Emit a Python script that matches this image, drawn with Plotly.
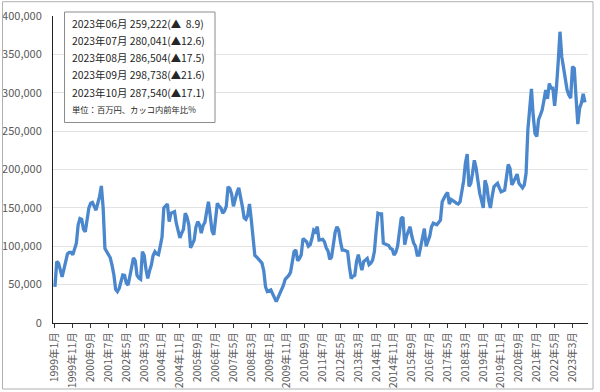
import plotly.graph_objects as go

# monthly values (million yen), Jan..Dec
v1999 = [47000, 80000, 78000, 68000, 60000, 70000, 83000, 90000, 92000, 92000, 89000, 97000]
v2000 = [104000, 128000, 136000, 135000, 122000, 119000, 135000, 150000, 156000, 157000, 152000, 147000]
v2001 = [156000, 165000, 178500, 150000, 97000, 93000, 88000, 85000, 75000, 63000, 44000, 41000]
v2002 = [45000, 55000, 62500, 62000, 52000, 49500, 62000, 72000, 85000, 81000, 62000, 58500]
v2003 = [57000, 93000, 88000, 70000, 58000, 68000, 75500, 88000, 93000, 90000, 89000, 100000]
v2004 = [112000, 150000, 153000, 155000, 132000, 143000, 144000, 145000, 130000, 122000, 111000, 117000]
v2005 = [122000, 143000, 138000, 128000, 98000, 103000, 108000, 125000, 132000, 128000, 117000, 127000]
v2006 = [131000, 145000, 158000, 140000, 120000, 115000, 138000, 156000, 152000, 150000, 143000, 146000]
v2007 = [152000, 177500, 175000, 168000, 152000, 162000, 170000, 176000, 165000, 152000, 137000, 135000]
v2008 = [140000, 155000, 135000, 110000, 88000, 86000, 83000, 81000, 78000, 68000, 47000, 41000]
v2009 = [42000, 43000, 38000, 34000, 28000, 33000, 38000, 45000, 49000, 57000, 59000, 62000]
v2010 = [66000, 78000, 93000, 95000, 81000, 84000, 89000, 110000, 108000, 106000, 100000, 102000]
v2011 = [110000, 121000, 119000, 125500, 108000, 108000, 109000, 106000, 98000, 94000, 83000, 86000]
v2012 = [106000, 118000, 125500, 121000, 106000, 95000, 95000, 94000, 93000, 73000, 58000, 61000]
v2013 = [62000, 80000, 89000, 78000, 69000, 80000, 82000, 84000, 76000, 78000, 82000, 93000]
v2014 = [120000, 143000, 142000, 142000, 104000, 103000, 102000, 101000, 97000, 96000, 88600, 92000]
v2015 = [100000, 123000, 136000, 138000, 102000, 113000, 120000, 125500, 113000, 104000, 100000, 88600]
v2016 = [88600, 100000, 113000, 123000, 100000, 108000, 113000, 125500, 130000, 129000, 128000, 131000]
v2017 = [134000, 158000, 163000, 167000, 170000, 155000, 161000, 160000, 158000, 156000, 155000, 158000]
v2018 = [170000, 185000, 208000, 220000, 178000, 182000, 195000, 212000, 202000, 182000, 169000, 160000]
v2019 = [150000, 186000, 178000, 160000, 150000, 165000, 177500, 180000, 182000, 176000, 171000, 172000]
v2020 = [173000, 190000, 206500, 201500, 180000, 184000, 190000, 194000, 182000, 178000, 176000, 180000]
v2021 = [195000, 251500, 285000, 305000, 270000, 247000, 243000, 265000, 271000, 277500, 290000, 303500]
v2022 = [292000, 312000, 306000, 306000, 283000, 306000, 340000, 379500, 347000, 334000, 320000, 303500]
v2023 = [297000, 293000, 334000, 332000, 294000, 259222, 280041, 286504, 298738, 287540]

yearly = [v1999, v2000, v2001, v2002, v2003, v2004, v2005, v2006, v2007, v2008,
          v2009, v2010, v2011, v2012, v2013, v2014, v2015, v2016, v2017, v2018,
          v2019, v2020, v2021, v2022, v2023]
start_year = 1999

months = []
values = []
for k, vals in enumerate(yearly):
    for m, v in enumerate(vals):
        months.append(f"{start_year + k}年{m + 1}月")
        values.append(v)

idx = list(range(len(months)))
tick_step = 10
tick_idx = idx[::tick_step]
tick_text = months[::tick_step]

y_ticks = [0, 50000, 100000, 150000, 200000, 250000, 300000, 350000, 400000]

box_lines = [
    "2023年06月 259,222(▲\u00a0\u00a08.9)",
    "2023年07月 280,041(▲12.6)",
    "2023年08月 286,504(▲17.5)",
    "2023年09月 298,738(▲21.6)",
    "2023年10月 287,540(▲17.1)",
]
unit_note = "単位：百万円、カッコ内前年比%"

FONT = "Noto Sans CJK JP, Noto Sans, sans-serif"

fig = go.Figure()
fig.add_trace(go.Scatter(
    x=idx, y=values, mode="lines",
    line=dict(color="#4a87cc", width=3.3),
    hoverinfo="skip", showlegend=False,
))

L, R, T, B = 53, 12, 16, 69
W, H = 600, 392
pw, ph = W - L - R, H - T - B

def px(x):
    return (x - L) / pw

def py(y):
    return (H - B - y) / ph

fig.update_layout(
    width=W, height=H,
    margin=dict(l=L, r=R, t=T, b=B, autoexpand=False),
    paper_bgcolor="white", plot_bgcolor="white",
    font=dict(family=FONT, size=10.5, color="#595959"),
    showlegend=False,
    xaxis=dict(
        range=[-1.1, len(idx) - 1 + 1.7], automargin=False,
        tickmode="array", tickvals=tick_idx, ticktext=tick_text,
        tickangle=-90, ticks="outside", ticklen=4, tickcolor="#333333",
        showline=True, linecolor="#222222", linewidth=1,
        showgrid=False, zeroline=False,
        tickfont=dict(family=FONT, size=10.5, color="#595959"),
    ),
    yaxis=dict(
        range=[0, 400000], tickvals=y_ticks, tickformat=",", automargin=False,
        showline=True, linecolor="#222222", linewidth=1,
        showgrid=True, gridcolor="#e2e2e2", gridwidth=1,
        zeroline=False, ticks="", ticklabelstandoff=8,
        tickfont=dict(family=FONT, size=11, color="#595959"),
    ),
)

# outer chart border
fig.add_shape(type="rect", xref="paper", yref="paper",
              x0=px(2.5), x1=px(593), y0=py(389), y1=py(1.7),
              line=dict(color="#b0b0b0", width=1), fillcolor="rgba(0,0,0,0)",
              layer="above")
# info box
fig.add_shape(type="rect", xref="paper", yref="paper",
              x0=px(64.5), x1=px(215), y0=py(122.5), y1=py(12),
              line=dict(color="#8c8c8c", width=1), fillcolor="white",
              layer="above")

line_y = [23.3, 40.5, 57.7, 74.9, 92.1]
for txt, yy in zip(box_lines, line_y):
    fig.add_annotation(xref="paper", yref="paper", x=px(70), y=py(yy),
                       text=txt, showarrow=False, xanchor="left", yanchor="middle",
                       font=dict(family=FONT, size=10.4, color="#262626"))
fig.add_annotation(xref="paper", yref="paper", x=px(70), y=py(108.7),
                   text=unit_note, showarrow=False, xanchor="left", yanchor="middle",
                   font=dict(family=FONT, size=8.3, color="#262626"))

fig.write_html(
    "out.html",
    config={"displayModeBar": False, "staticPlot": True},
    post_script="document.body.style.margin='0';document.body.style.overflow='hidden';",
)
